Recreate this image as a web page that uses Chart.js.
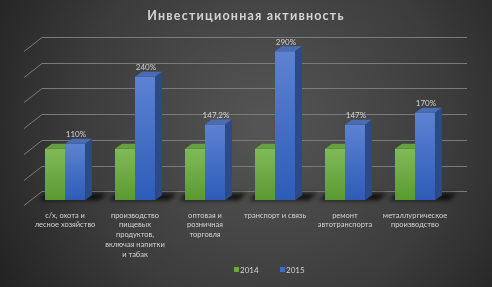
<!DOCTYPE html>
<html lang="ru">
<head>
  <meta charset="UTF-8">
  <title>Инвестиционная активность</title>
  <script src="https://cdn.jsdelivr.net/npm/chart.js"></script>
  <style>
    html, body { margin: 0; padding: 0; background: #2a2a2a; }
    #wrap { width: 492px; height: 287px; }
  </style>
</head>
<body>
  <div id="wrap"><canvas id="grafico"></canvas></div>

  <script>
  const titulo = 'Инвестиционная активность';
  const categorias = [
    ['с/х, охота и', 'лесное хозяйство'],
    ['производство', 'пищевых', 'продуктов,', 'включая напитки', 'и табак'],
    ['оптовая и', 'розничная', 'торговля'],
    ['транспорт и связь'],
    ['ремонт', 'автотранспорта'],
    ['металлургическое', 'производство']
  ];
  const anos = ['2014', '2015'];
  const valores2014 = [100, 100, 100, 100, 100, 100];
  const valores2015 = [110, 240, 147.2, 290, 147, 170];
  const rotulos2015 = ['110%', '240%', '147,2%', '290%', '147%', '170%'];
  const eixoY = [0, 50, 100, 150, 200, 250, 300];

  const cores = {
    verde: { topo: '#80ba58', base: '#5a9a30', face: '#66a040' },
    azul: { topo: '#5d82d2', base: '#2d5cb8', face: '#4a6cb4', lado: '#2c4a88' }
  };
  const prof = { dx: 7, dy: -5 };      // 3D de cada barra
  const fundo = { dx: 18, dy: -14 };   // profundidade do plano das grades
  const txt = '#d4d4d4';

  function gradiente(c, cor) {
    const chart = c.chart;
    const y = chart.scales && chart.scales.y;
    if (!chart.chartArea || !y || c.raw == null) return cor.base;
    const topo = y.getPixelForValue(c.raw);
    const base = y.getPixelForValue(0);
    const g = chart.ctx.createLinearGradient(0, topo, 0, base);
    g.addColorStop(0, cor.topo);
    g.addColorStop(1, cor.base);
    return g;
  }

  const plugin3d = {
    id: 'efeito3d',
    beforeDraw(chart) {
      const { ctx, width, height } = chart;
      ctx.save();
      const g = ctx.createRadialGradient(265, 125, 10, 265, 125, 330);
      g.addColorStop(0, '#545454');
      g.addColorStop(0.55, '#3c3c3c');
      g.addColorStop(1, '#1e1e1e');
      ctx.fillStyle = g;
      ctx.fillRect(0, 0, width, height);

      // titulo
      ctx.fillStyle = txt;
      ctx.font = 'bold 12.5px Lato';
      ctx.letterSpacing = '1.2px';
      ctx.textAlign = 'center';
      ctx.textBaseline = 'middle';
      ctx.fillText(titulo, width / 2, 16);
      ctx.letterSpacing = '0px';
      ctx.restore();
    },
    beforeDatasetsDraw(chart) {
      const { ctx, chartArea: a, scales: { y } } = chart;
      const ajuste = 9;
      ctx.save();
      ctx.strokeStyle = '#7a7a7a';
      ctx.lineWidth = 1;
      eixoY.forEach(v => {
        const yb = Math.round(y.getPixelForValue(v) - ajuste) + 0.5;
        ctx.beginPath();
        ctx.moveTo(a.left - 6, yb - fundo.dy);
        ctx.lineTo(a.left - 6 + fundo.dx, yb);
        ctx.lineTo(a.right + 17, yb);
        ctx.stroke();
      });

      // sombras no chao
      const m0 = chart.getDatasetMeta(0).data;
      const m1 = chart.getDatasetMeta(1).data;
      ctx.filter = 'blur(2px)';
      ctx.fillStyle = 'rgba(0,0,0,0.75)';
      m0.forEach((b, i) => {
        const x1 = b.x - b.width / 2;
        const x2 = m1[i].x + m1[i].width / 2;
        const base = b.base;
        ctx.beginPath();
        ctx.moveTo(x1 - 6, base);
        ctx.lineTo(x2 + 14, base);
        ctx.lineTo(x2 + 22, base - 7);
        ctx.lineTo(x1 + 2, base - 7);
        ctx.closePath();
        ctx.fill();
      });
      ctx.filter = 'none';
      ctx.restore();
    },
    afterDatasetsDraw(chart) {
      const { ctx } = chart;
      const m0 = chart.getDatasetMeta(0).data;
      const m1 = chart.getDatasetMeta(1).data;
      ctx.save();
      m0.forEach((b, i) => {
        const gx1 = b.x - b.width / 2, gx2 = b.x + b.width / 2;
        // topo da barra verde (parte visivel)
        ctx.fillStyle = cores.verde.face;
        ctx.beginPath();
        ctx.moveTo(gx1, b.y);
        ctx.lineTo(gx2, b.y);
        ctx.lineTo(gx2, b.y + prof.dy);
        ctx.lineTo(gx1 + prof.dx, b.y + prof.dy);
        ctx.closePath();
        ctx.fill();

        const c = m1[i];
        const x1 = c.x - c.width / 2, x2 = c.x + c.width / 2;
        ctx.fillStyle = cores.azul.face;
        ctx.beginPath();
        ctx.moveTo(x1, c.y);
        ctx.lineTo(x2, c.y);
        ctx.lineTo(x2 + prof.dx, c.y + prof.dy);
        ctx.lineTo(x1 + prof.dx, c.y + prof.dy);
        ctx.closePath();
        ctx.fill();

        ctx.fillStyle = cores.azul.lado;
        ctx.beginPath();
        ctx.moveTo(x2, c.y);
        ctx.lineTo(x2 + prof.dx, c.y + prof.dy);
        ctx.lineTo(x2 + prof.dx, c.base + prof.dy);
        ctx.lineTo(x2, c.base);
        ctx.closePath();
        ctx.fill();

        // rotulo
        ctx.fillStyle = txt;
        ctx.font = '8px Lato';
        ctx.textAlign = 'center';
        ctx.textBaseline = 'middle';
        ctx.fillText(rotulos2015[i], c.x + 1, c.y + prof.dy - 4);
      });
      ctx.restore();
    },
    afterDraw(chart) {
      // legenda
      const { ctx } = chart;
      ctx.save();
      ctx.font = '8px Lato';
      ctx.textBaseline = 'middle';
      ctx.textAlign = 'left';
      let x = 234;
      const y = 270;
      chart.data.datasets.forEach(ds => {
        ctx.fillStyle = ds.corLegenda;
        ctx.fillRect(x, y - 3, 5, 5);
        ctx.fillStyle = txt;
        ctx.fillText(ds.label, x + 6, y);
        x += 46;
      });
      ctx.restore();
    }
  };

  new Chart(document.getElementById('grafico'), {
    type: 'bar',
    data: {
      labels: categorias,
      datasets: [
        {
          label: anos[0],
          data: valores2014,
          corLegenda: '#6aaa3c',
          backgroundColor: c => gradiente(c, cores.verde),
          categoryPercentage: 0.571,
          barPercentage: 1
        },
        {
          label: anos[1],
          data: valores2015,
          corLegenda: '#3f6cc8',
          backgroundColor: c => gradiente(c, cores.azul),
          categoryPercentage: 0.571,
          barPercentage: 1
        }
      ]
    },
    options: {
      responsive: true,
      maintainAspectRatio: false,
      animation: false,
      layout: { padding: { top: 46, left: 30, right: 42, bottom: 18 } },
      scales: {
        x: {
          grid: { display: false, drawTicks: false, tickLength: 0 },
          border: { display: false },
          ticks: {
            color: txt,
            font: { family: 'Lato', size: 7.5, lineHeight: 1.3 },
            padding: 10,
            maxRotation: 0,
            autoSkip: false
          }
        },
        y: {
          display: false,
          min: 0,
          max: 300,
          ticks: { stepSize: 50 }
        }
      },
      plugins: {
        legend: { display: false },
        title: { display: false },
        tooltip: { enabled: false }
      }
    },
    plugins: [plugin3d]
  });
  </script>
</body>
</html>
